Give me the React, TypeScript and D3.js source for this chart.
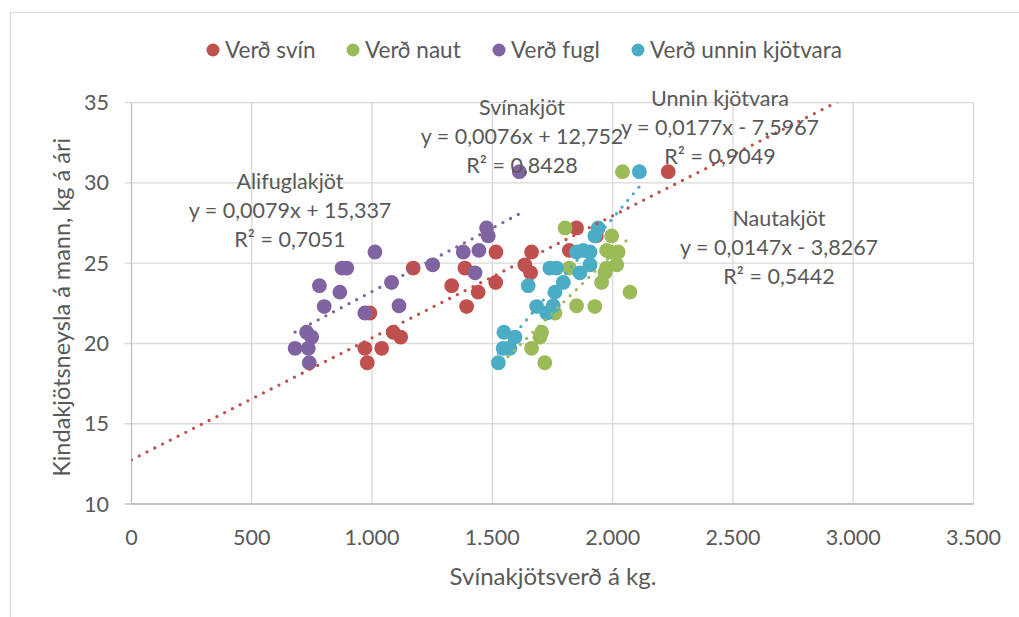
import React from "react";
import * as d3 from "d3";

if (typeof document !== "undefined") document.body.style.margin = "0";

// ---- data ----
const svinX = [970, 1040, 980, 991, 1088, 1119, 1171, 1331, 1386, 1393, 1441, 1514, 1515, 1635, 1659, 1663, 1820, 1850, 1932, 2231];
const svinY = [19.7, 19.7, 18.8, 21.9, 20.7, 20.4, 24.7, 23.6, 24.7, 22.3, 23.2, 23.8, 25.7, 24.9, 24.4, 25.7, 25.8, 27.2, 26.7, 30.7];

const nautX = [1718, 1663, 1565, 1705, 1698, 1760, 1850, 1926, 2072, 1954, 1968, 1820, 1975, 2017, 2023, 1990, 1975, 1996, 1802, 2041];
const nautY = [18.8, 19.7, 19.7, 20.7, 20.4, 21.9, 22.35, 22.3, 23.2, 23.8, 24.4, 24.7, 24.7, 24.9, 25.7, 25.7, 25.8, 26.7, 27.2, 30.7];

const fuglX = [739, 680, 735, 749, 728, 970, 801, 1112, 866, 781, 1081, 1428, 875, 895, 1252, 1012, 1379, 1444, 1483, 1476, 1612];
const fuglY = [18.8, 19.7, 19.7, 20.4, 20.7, 21.9, 22.3, 22.35, 23.2, 23.6, 23.8, 24.4, 24.7, 24.7, 24.9, 25.7, 25.7, 25.8, 26.7, 27.2, 30.7];

const unninX = [1525, 1545, 1573, 1594, 1548, 1726, 1684, 1753, 1760, 1649, 1795, 1864, 1739, 1767, 1906, 1850, 1906, 1878, 1926, 1940, 2111];
const unninY = [18.8, 19.7, 19.7, 20.4, 20.7, 21.9, 22.3, 22.35, 23.2, 23.6, 23.8, 24.4, 24.7, 24.7, 24.9, 25.7, 25.7, 25.8, 26.7, 27.2, 30.7];

const seriesNames = ["Verð svín", "Verð naut", "Verð fugl", "Verð unnin kjötvara"];
const seriesColors = ["#C0504D", "#9BBB59", "#8064A2", "#4BACC6"];

// trendline coefficients [slope, intercept]
const trendSlopes = [0.0076, 0.0147, 0.0079, 0.0177];
const trendIntercepts = [12.752, -3.8267, 15.337, -7.5967];

const xTicks = [0, 500, 1000, 1500, 2000, 2500, 3000, 3500];
const yTicks = [10, 15, 20, 25, 30, 35];

const annoTitles = ["Svínakjöt", "Nautakjöt", "Alifuglakjöt", "Unnin kjötvara"];
const annoEq = ["y = 0,0076x + 12,752", "y = 0,0147x - 3,8267", "y = 0,0079x + 15,337", "y = 0,0177x - 7,5967"];
const annoR2 = ["R² = 0,8428", "R² = 0,5442", "R² = 0,7051", "R² = 0,9049"];

const xTitle = "Svínakjötsverð á kg.";
const yTitle = "Kindakjötsneysla á mann, kg á ári";

const fmtX = (v: number) => (v >= 1000 ? d3.format(",")(v).replace(/,/g, ".") : String(v));

export default function App() {
  const W = 1019, H = 617;
  const left = 131.5, right = 973.5, top = 102.7, bottom = 504;
  const x = d3.scaleLinear().domain([0, 3500]).range([left, right]);
  const y = d3.scaleLinear().domain([10, 35]).range([bottom, top]);
  const font = "Lato, 'Open Sans', sans-serif";
  const txt = "#595959";
  const fs = 21.5;

  const series = [
    { xs: svinX, ys: svinY },
    { xs: nautX, ys: nautY },
    { xs: fuglX, ys: fuglY },
    { xs: unninX, ys: unninY },
  ];

  const trendRange = (i: number): [number, number] => {
    if (i === 0) return [0, 3500];
    const e = d3.extent(series[i].xs) as [number, number];
    return e;
  };

  const line = d3.line<number>().x((d) => x(d[0] as any)).y((d) => y(d[1] as any));

  // annotation positions: [cx, firstLineCenterY]
  const annoPos: [number, number][] = [
    [522, 107],
    [779, 218],
    [290, 181],
    [720, 98],
  ];
  const lh = 29.3;

  return (
    <svg width={W} height={H} style={{ display: "block", background: "#fff" }} fontFamily={font}>
      <defs>
        <clipPath id="plotclip">
          <rect x={left} y={top} width={right - left} height={bottom - top} />
        </clipPath>
      </defs>
      <rect x={10.5} y={12.5} width={1040} height={640} fill="#fff" stroke="#d9d9d9" strokeWidth={1.2} />

      {/* gridlines */}
      {yTicks.filter((t) => t !== 10).map((t) => (
        <line key={"gy" + t} x1={left - 7} x2={right} y1={y(t)} y2={y(t)} stroke="#d9d9d9" strokeWidth={1.3} />
      ))}
      {xTicks.filter((t) => t !== 0).map((t) => (
        <line key={"gx" + t} x1={x(t)} x2={x(t)} y1={top} y2={bottom} stroke="#d9d9d9" strokeWidth={1.3} />
      ))}
      {/* axes */}
      <line x1={left} x2={left} y1={top} y2={bottom} stroke="#bfbfbf" strokeWidth={1.3} />
      <line x1={left - 7} x2={left} y1={y(10)} y2={y(10)} stroke="#bfbfbf" strokeWidth={1.3} />
      <line x1={left} x2={right} y1={bottom} y2={bottom} stroke="#bfbfbf" strokeWidth={1.8} />

      {/* tick labels */}
      {yTicks.map((t) => (
        <text key={"ty" + t} x={109} y={y(t)} dy="0.35em" textAnchor="end" fontSize={fs} fill={txt}>{t}</text>
      ))}
      {xTicks.map((t) => (
        <text key={"tx" + t} x={x(t)} y={537} dy="0.35em" textAnchor="middle" fontSize={fs} fill={txt}>{fmtX(t)}</text>
      ))}

      {/* axis titles */}
      <text x={553} y={577} dy="0.35em" textAnchor="middle" fontSize={24} fill={txt}>{xTitle}</text>
      <text transform={`translate(62,${(top + bottom) / 2 + 4}) rotate(-90)`} dy="0.35em" textAnchor="middle" fontSize={23.5} fill={txt}>{yTitle}</text>

      {/* markers */}
      {series.map((s, i) => (
        <g key={"s" + i} fill={seriesColors[i]}>
          {s.xs.map((xv, j) => (
            <circle key={j} cx={x(xv)} cy={y(s.ys[j])} r={7.4} />
          ))}
        </g>
      ))}

      {/* trendlines */}
      <g clipPath="url(#plotclip)">
        {series.map((s, i) => {
          const [a, b] = trendRange(i);
          const pts: any = [a, b].map((v) => [v, trendSlopes[i] * v + trendIntercepts[i]]);
          return (
            <path key={"t" + i} d={line(pts) || ""} fill="none" stroke={seriesColors[i]} strokeWidth={3.3}
              strokeLinecap="round" strokeDasharray="0 8.7" />
          );
        })}
      </g>

      {/* annotations */}
      {annoTitles.map((t, i) => (
        <g key={"a" + i} fontSize={fs} fill={txt} textAnchor="middle">
          <text x={annoPos[i][0]} y={annoPos[i][1]} dy="0.35em">{t}</text>
          <text x={annoPos[i][0]} y={annoPos[i][1] + lh} dy="0.35em">{annoEq[i]}</text>
          <text x={annoPos[i][0]} y={annoPos[i][1] + 2 * lh} dy="0.35em">{annoR2[i]}</text>
        </g>
      ))}

      {/* legend */}
      {seriesNames.map((n, i) => {
        const lx = [213, 353, 499, 638][i];
        return (
          <g key={"l" + i}>
            <circle cx={lx} cy={50} r={6.5} fill={seriesColors[i]} />
            <text x={lx + 12} y={50} dy="0.35em" fontSize={22.5} fill={txt}>{n}</text>
          </g>
        );
      })}
    </svg>
  );
}
